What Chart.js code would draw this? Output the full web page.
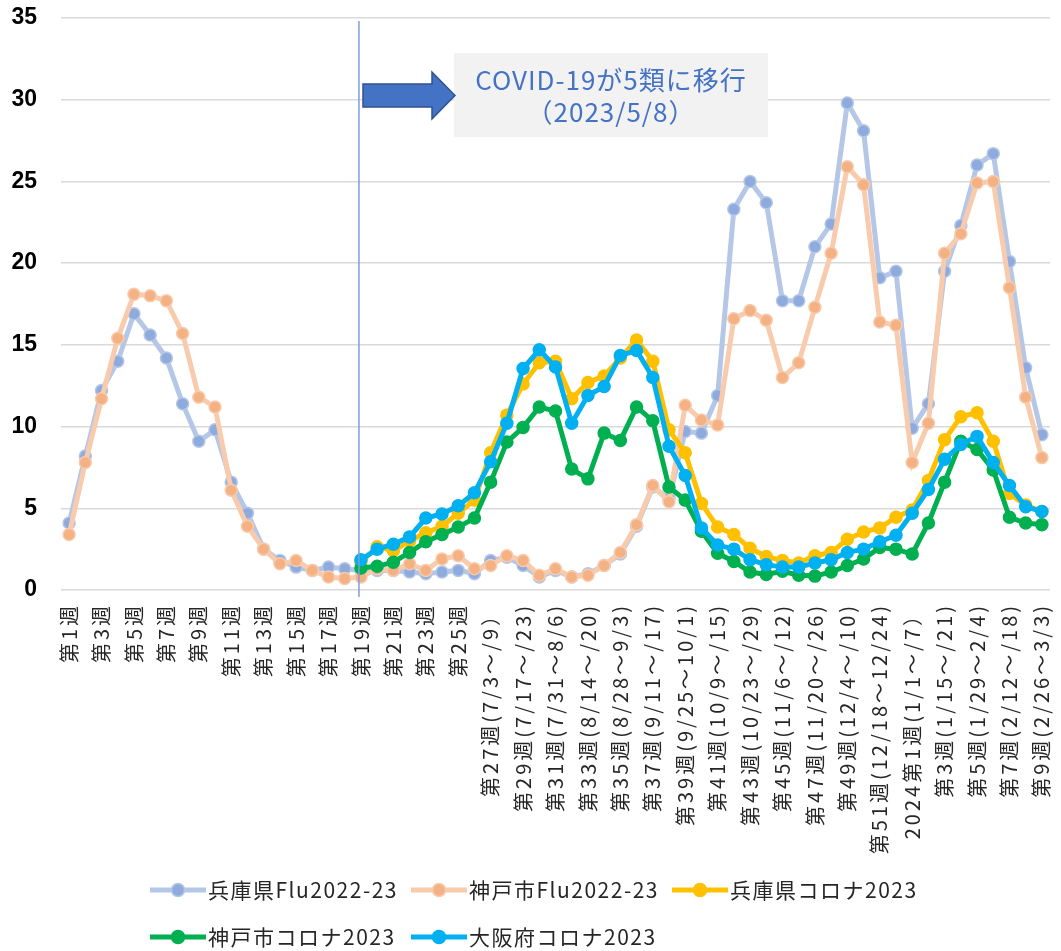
<!DOCTYPE html>
<html lang="ja">
<head>
<meta charset="utf-8">
<title>インフルエンザ・コロナ定点比較</title>
<script src="https://cdn.jsdelivr.net/npm/chart.js@4.4.1/dist/chart.umd.min.js"></script>
<style>
  html, body { margin: 0; padding: 0; background: #fff; }
  #wrap { width: 1061px; height: 951px; }
</style>
</head>
<body>
<div id="wrap"><canvas id="chart" width="1061" height="951"></canvas></div>
<script>
// Week labels (only every other one is shown on the axis)
const weekLabels = [
  '第1週', '第2週', '第3週', '第4週', '第5週', '第6週', '第7週', '第8週', '第9週', '第10週',
  '第11週', '第12週', '第13週', '第14週', '第15週', '第16週', '第17週', '第18週', '第19週', '第20週',
  '第21週', '第22週', '第23週', '第24週', '第25週', '第26週',
  '第27週(7/3～/9）', '第28週(7/10～/16)', '第29週(7/17～/23)', '第30週(7/24～/30)',
  '第31週(7/31～8/6)', '第32週(8/7～/13)', '第33週(8/14～/20)', '第34週(8/21～/27)',
  '第35週(8/28～9/3)', '第36週(9/4～/10)', '第37週(9/11～/17)', '第38週(9/18～/24)',
  '第39週(9/25～10/1)', '第40週(10/2～/8)', '第41週(10/9～/15)', '第42週(10/16～/22)',
  '第43週(10/23～/29)', '第44週(10/30～11/5)', '第45週(11/6～/12)', '第46週(11/13～/19)',
  '第47週(11/20～/26)', '第48週(11/27～12/3)', '第49週(12/4～/10)', '第50週(12/11～/17)',
  '第51週(12/18～12/24)', '第52週(12/25～/31)',
  '2024第1週(1/1～/7）', '第2週(1/8～/14)', '第3週(1/15～/21)', '第4週(1/22～/28)',
  '第5週(1/29～2/4)', '第6週(2/5～/11)', '第7週(2/12～/18)', '第8週(2/19～/25)', '第9週(2/26～3/3)'
];

const hyogoFlu = [
  4.1, 8.2, 12.2, 14.0, 16.9, 15.6, 14.2, 11.4, 9.1, 9.8,
  6.6, 4.7, 2.5, 1.8, 1.4, 1.2, 1.4, 1.3, 1.2, 1.2,
  1.2, 1.1, 1.0, 1.1, 1.2, 1.0, 1.8, 2.0, 1.5, 0.8,
  1.2, 0.8, 1.0, 1.5, 2.2, 3.9, 6.3, 5.6, 9.7, 9.6,
  11.9, 23.3, 25.0, 23.7, 17.7, 17.7, 21.0, 22.4, 29.8, 28.1,
  19.1, 19.5, 9.9, 11.4, 19.5, 22.3, 26.0, 26.7, 20.1, 13.6, 9.5
];
const kobeFlu = [
  3.4, 7.8, 11.7, 15.4, 18.1, 18.0, 17.7, 15.7, 11.8, 11.2,
  6.1, 3.9, 2.5, 1.6, 1.8, 1.2, 0.8, 0.7, 0.8, 1.3,
  1.2, 1.6, 1.2, 1.9, 2.1, 1.3, 1.5, 2.1, 1.8, 0.9,
  1.3, 0.8, 0.9, 1.5, 2.3, 4.0, 6.4, 5.4, 11.3, 10.4,
  10.1, 16.6, 17.1, 16.5, 13.0, 13.9, 17.3, 20.6, 25.9, 24.8,
  16.4, 16.2, 7.8, 10.2, 20.6, 21.8, 24.9, 25.0, 18.5, 11.8, 8.1
];
// COVID-19 data starts at week 19 (index 18)
const hyogoCovid = [
  null, null, null, null, null, null, null, null, null, null,
  null, null, null, null, null, null, null, null, 1.7, 2.65,
  2.4, 3.0, 3.5, 3.9, 4.7, 5.5, 8.4, 10.7, 12.6, 13.9,
  14.0, 11.7, 12.7, 13.1, 14.2, 15.3, 14.0, 9.8, 8.4, 5.3,
  3.85, 3.4, 2.55, 2.05, 1.8, 1.65, 2.1, 2.3, 3.1, 3.55,
  3.8, 4.45, 4.9, 6.7, 9.2, 10.6, 10.85, 9.1, 5.9, 5.2, 4.8
];
const kobeCovid = [
  null, null, null, null, null, null, null, null, null, null,
  null, null, null, null, null, null, null, null, 1.35, 1.45,
  1.7, 2.3, 2.95, 3.4, 3.85, 4.4, 6.6, 9.05, 9.95, 11.2,
  10.95, 7.4, 6.8, 9.6, 9.15, 11.2, 10.35, 6.3, 5.5, 3.6,
  2.25, 1.75, 1.1, 0.95, 1.15, 0.9, 0.85, 1.1, 1.5, 1.9,
  2.6, 2.5, 2.2, 4.1, 6.6, 9.1, 8.6, 7.35, 4.45, 4.1, 4.0
];
const osakaCovid = [
  null, null, null, null, null, null, null, null, null, null,
  null, null, null, null, null, null, null, null, 1.85, 2.5,
  2.8, 3.25, 4.4, 4.65, 5.15, 5.95, 7.85, 10.2, 13.55, 14.7,
  13.65, 10.2, 11.9, 12.45, 14.35, 14.65, 13.0, 8.8, 7.0, 3.8,
  2.75, 2.5, 1.85, 1.55, 1.4, 1.4, 1.65, 1.85, 2.3, 2.5,
  2.95, 3.35, 4.7, 6.15, 8.0, 8.9, 9.4, 7.8, 6.4, 5.1, 4.8
];
const yTicks = [0, 5, 10, 15, 20, 25, 30, 35];

const seriesNames = ['兵庫県Flu2022-23', '神戸市Flu2022-23', '兵庫県コロナ2023', '神戸市コロナ2023', '大阪府コロナ2023'];
const lineColors = ['#b4c7e7', '#f8cbad', '#ffc000', '#00b050', '#00b0f0'];
const dotColors = ['#8faadc', '#f4b183', '#ffc000', '#00b050', '#00b0f0'];
const seriesData = [hyogoFlu, kobeFlu, hyogoCovid, kobeCovid, osakaCovid];

const JP = '"Noto Sans CJK JP", "Noto Sans", sans-serif';
const MOVE_WEEK = 18; // 第19週 = 5類移行

const datasets = seriesData.map((d, i) => ({
  label: seriesNames[i],
  data: d,
  borderColor: lineColors[i],
  backgroundColor: dotColors[i],
  borderWidth: 5,
  pointRadius: 6,
  pointBorderWidth: 1.5,
  pointBorderColor: lineColors[i],
  pointBackgroundColor: dotColors[i],
  tension: 0,
  order: 5 - i // later series are drawn on top
}));

// vertical marker, arrow, note box and legend
const overlay = {
  id: 'overlay',
  afterLayout(chart) {
    // wider letter spacing for the week labels only
    const sx = chart.scales.x;
    if (!sx._spaced) {
      const orig = sx.drawLabels.bind(sx);
      sx.drawLabels = function (area) {
        chart.ctx.save();
        chart.ctx.letterSpacing = '3px';
        orig(area);
        chart.ctx.restore();
      };
      sx._spaced = true;
    }
  },
  afterDatasetsDraw(chart) {
    const ctx = chart.ctx;
    const x = chart.scales.x.getPixelForValue(MOVE_WEEK) - 2;
    ctx.save();
    ctx.strokeStyle = '#7f9edb';
    ctx.lineWidth = 1.5;
    ctx.beginPath();
    ctx.moveTo(x, 21);
    ctx.lineTo(x, 597);
    ctx.stroke();
    ctx.restore();
  },
  afterDraw(chart) {
    const ctx = chart.ctx;
    ctx.save();
    // note box
    ctx.fillStyle = '#f2f2f2';
    ctx.fillRect(454, 53, 314, 84);
    ctx.fillStyle = '#4472c4';
    ctx.font = '26px ' + JP;
    ctx.letterSpacing = '1px';
    ctx.textAlign = 'center';
    ctx.textBaseline = 'middle';
    ctx.fillText('COVID-19が5類に移行', 611, 80);
    ctx.fillText('（2023/5/8）', 611, 112);
    // block arrow
    ctx.beginPath();
    ctx.moveTo(363, 84);
    ctx.lineTo(432, 84);
    ctx.lineTo(432, 72);
    ctx.lineTo(455, 95.5);
    ctx.lineTo(432, 119);
    ctx.lineTo(432, 107);
    ctx.lineTo(363, 107);
    ctx.closePath();
    ctx.fillStyle = '#4472c4';
    ctx.fill();
    ctx.strokeStyle = '#2f528f';
    ctx.lineWidth = 1.5;
    ctx.stroke();
    // legend, 3 columns
    ctx.textAlign = 'left';
    ctx.font = '21px ' + JP;
    ctx.letterSpacing = '1.5px';
    seriesNames.forEach((name, i) => {
      const col = i % 3, row = Math.floor(i / 3);
      const x0 = 150 + col * 261, y0 = 890 + row * 47;
      ctx.strokeStyle = lineColors[i];
      ctx.lineWidth = 5;
      ctx.beginPath();
      ctx.moveTo(x0, y0);
      ctx.lineTo(x0 + 56, y0);
      ctx.stroke();
      ctx.beginPath();
      ctx.arc(x0 + 28, y0, 6.5, 0, Math.PI * 2);
      ctx.fillStyle = dotColors[i];
      ctx.fill();
      ctx.lineWidth = 1.5;
      ctx.strokeStyle = lineColors[i];
      ctx.stroke();
      ctx.fillStyle = '#262626';
      ctx.fillText(name, x0 + 58, y0);
    });
    ctx.restore();
  }
};

new Chart(document.getElementById('chart'), {
  type: 'line',
  data: { labels: weekLabels, datasets },
  options: {
    responsive: false,
    animation: false,
    devicePixelRatio: 1,
    layout: { padding: { top: 18, right: 11, bottom: 0, left: 0 } },
    plugins: { legend: { display: false }, tooltip: { enabled: false } },
    scales: {
      x: {
        offset: true,
        grid: { display: false, drawTicks: false },
        border: { display: false },
        afterFit: s => { s.height = 361; s.paddingLeft = 0; s.paddingRight = 0; },
        ticks: {
          autoSkip: false,
          minRotation: 90,
          maxRotation: 90,
          padding: 13,
          color: '#262626',
          font: { family: JP, size: 20 },
          callback: function (v, i) { return i % 2 === 0 ? this.getLabelForValue(v) : ''; }
        }
      },
      y: {
        min: 0,
        max: 35,
        afterFit: s => { s.width = 61; s.paddingTop = 0; s.paddingBottom = 0; },
        afterBuildTicks: s => { s.ticks = yTicks.map(v => ({ value: v })); },
        grid: { color: '#d9d9d9', lineWidth: 1.5, drawTicks: false },
        border: { display: false },
        ticks: {
          padding: 24,
          color: '#000',
          font: { family: '"Liberation Sans", Arial, sans-serif', size: 23, weight: 'bold' }
        }
      }
    }
  },
  plugins: [overlay]
});
</script>
</body>
</html>
